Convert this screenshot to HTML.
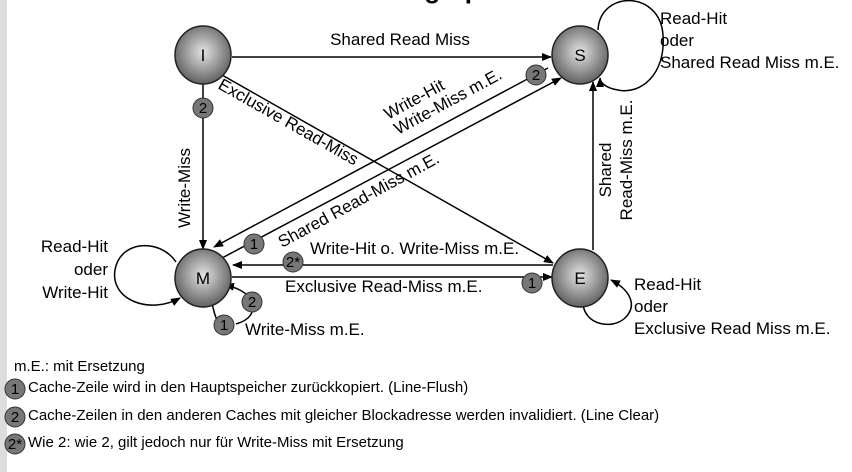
<!DOCTYPE html>
<html><head><meta charset="utf-8"><style>
html,body{margin:0;padding:0;background:#fff}
svg{display:block}
text{font-family:"Liberation Sans",Arial,sans-serif;fill:#000}
</style></head><body>
<svg width="852" height="472" viewBox="0 0 852 472" xmlns="http://www.w3.org/2000/svg">
<defs>
<radialGradient id="g" cx="0.5" cy="0.45" r="0.6">
<stop offset="0" stop-color="#e4e4e4"/><stop offset="1" stop-color="#555"/>
</radialGradient>
<marker id="a" markerWidth="10" markerHeight="8" refX="9" refY="4" orient="auto" markerUnits="userSpaceOnUse">
<path d="M0,0 L10,4 L0,8 z" fill="#000"/></marker>
</defs>
<rect x="0" y="0" width="7" height="472" fill="#ddd"/>
<text x="108" y="-2" font-size="26" font-weight="bold">MESI-Protokoll: Zustandsgraph</text>

<g stroke="#000" stroke-width="1.5" fill="none">
<line x1="232" y1="57" x2="551" y2="57" marker-end="url(#a)"/>
<line x1="203" y1="84" x2="203" y2="249" marker-end="url(#a)"/>
<line x1="222" y1="75" x2="553" y2="263" marker-end="url(#a)"/>
<line x1="548" y1="68" x2="214" y2="247" marker-end="url(#a)"/>
<line x1="222" y1="258" x2="561" y2="78" marker-end="url(#a)"/>
<line x1="553" y1="265" x2="233" y2="265" marker-end="url(#a)"/>
<line x1="232" y1="277" x2="552" y2="277" marker-end="url(#a)"/>
<line x1="593" y1="250" x2="593" y2="82" marker-end="url(#a)"/>
<path d="M598,30 C600,-10 660,-10 663,35 C666,75 640,95 618,90 C605,88 600,82 600,78" marker-end="url(#a)"/>
<path d="M176,262 C160,238 120,240 115,270 C110,300 150,315 180,298" marker-end="url(#a)"/>
<path d="M212,303 C215,318 220,330 225,325 M236,324 C250,320 255,312 252,302 C248,292 235,287 225,285" marker-end="url(#a)"/>
<path d="M583,304 C585,325 612,330 625,318 C638,305 630,290 611,280" marker-end="url(#a)"/>
</g>

<g stroke="#222" stroke-width="1.5" fill="url(#g)">
<ellipse cx="203" cy="55" rx="28" ry="29"/>
<ellipse cx="580" cy="55" rx="28" ry="29"/>
<ellipse cx="203" cy="278" rx="28" ry="29"/>
<ellipse cx="580" cy="278" rx="28" ry="29"/>
</g>
<g font-size="17" text-anchor="middle">
<text x="203" y="61">I</text><text x="580" y="61">S</text>
<text x="203" y="284">M</text><text x="580" y="284">E</text>
</g>

<g stroke="#333" stroke-width="1" fill="#777">
<circle cx="203" cy="108" r="10"/><circle cx="536" cy="75" r="10"/>
<circle cx="254" cy="244" r="10"/><circle cx="293" cy="262" r="10"/>
<circle cx="532" cy="283" r="10"/><circle cx="252" cy="302" r="10"/>
<circle cx="224" cy="325" r="10"/>
<circle cx="15" cy="389" r="10"/><circle cx="15" cy="417" r="10"/><circle cx="15" cy="444" r="10"/>
</g>
<g font-size="15" text-anchor="middle">
<text x="203" y="113">2</text><text x="536" y="80">2</text>
<text x="254" y="249">1</text><text x="293" y="267">2*</text>
<text x="532" y="288">1</text><text x="252" y="307">2</text>
<text x="224" y="330">1</text>
<text x="15" y="394">1</text><text x="15" y="422">2</text><text x="15" y="449">2*</text>
</g>

<g font-size="17">
<text x="400" y="45" text-anchor="middle">Shared Read Miss</text>
<text x="660" y="24">Read-Hit</text>
<text x="660" y="46">oder</text>
<text x="660" y="68">Shared Read Miss m.E.</text>
<text transform="translate(190,188) rotate(-90)" text-anchor="middle">Write-Miss</text>
<text transform="translate(217,88) rotate(29.5)">Exclusive Read-Miss</text>
<text transform="translate(388,120) rotate(-28.5)">Write-Hit</text>
<text transform="translate(398,135) rotate(-28.5)">Write-Miss m.E.</text>
<text transform="translate(282,248) rotate(-28.5)">Shared Read-Miss m.E.</text>
<text x="310" y="254">Write-Hit o. Write-Miss m.E.</text>
<text x="285" y="292">Exclusive Read-Miss m.E.</text>
<text transform="translate(611,170) rotate(-90)" text-anchor="middle">Shared</text>
<text transform="translate(632,160) rotate(-90)" text-anchor="middle">Read-Miss m.E.</text>
<text x="108" y="252" text-anchor="end">Read-Hit</text>
<text x="108" y="275" text-anchor="end">oder</text>
<text x="108" y="298" text-anchor="end">Write-Hit</text>
<text x="245" y="335">Write-Miss m.E.</text>
<text x="634" y="290">Read-Hit</text>
<text x="634" y="312">oder</text>
<text x="634" y="334">Exclusive Read Miss m.E.</text>
</g>
<g font-size="15">
<text x="14" y="371">m.E.: mit Ersetzung</text>
<text x="28" y="392">Cache-Zeile wird in den Hauptspeicher zurückkopiert. (Line-Flush)</text>
<text x="28" y="420">Cache-Zeilen in den anderen Caches mit gleicher Blockadresse werden invalidiert. (Line Clear)</text>
<text x="28" y="447">Wie 2: wie 2, gilt jedoch nur für Write-Miss mit Ersetzung</text>
</g>
</svg>
</body></html>
